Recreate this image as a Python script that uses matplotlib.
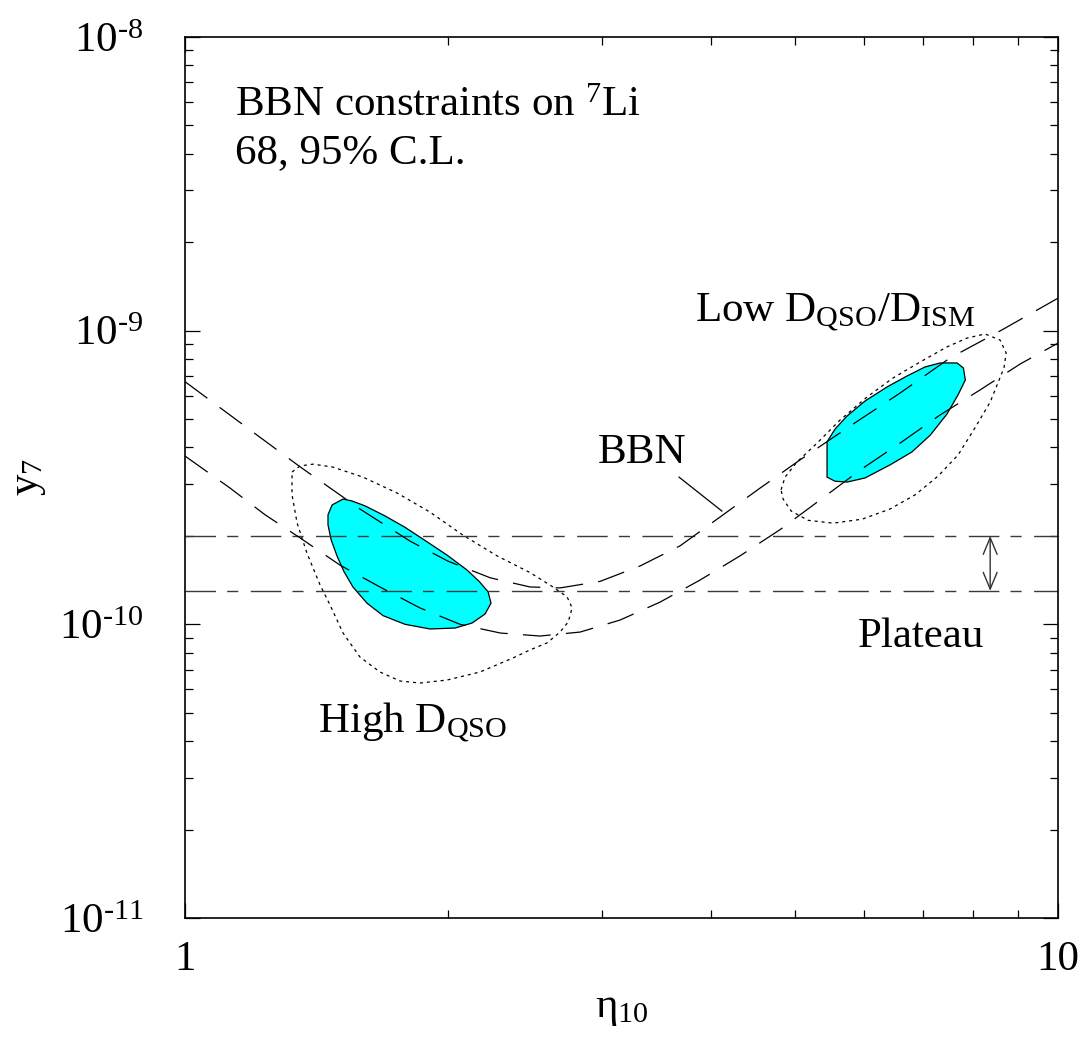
import math
import matplotlib
matplotlib.use('Agg')
import matplotlib.pyplot as plt
from matplotlib.ticker import FixedLocator, FuncFormatter, NullFormatter, LogLocator

# fonts: Times-like serif everywhere
plt.rcParams['font.family'] = ['Liberation Serif', 'DejaVu Serif']
plt.rcParams['mathtext.fontset'] = 'custom'
plt.rcParams['mathtext.rm'] = 'Liberation Serif'
plt.rcParams['mathtext.it'] = 'Liberation Serif:italic'
plt.rcParams['mathtext.bf'] = 'Liberation Serif:bold'
plt.rcParams['lines.scale_dashes'] = False

# BBN band (upper / lower edge)
bbn_hi_x = [1.0, 1.187, 1.354, 1.586, 1.810, 2.001, 2.236, 2.484, 2.689, 2.988, 3.321,
            3.690, 4.101, 4.557, 5.064, 5.777, 6.592, 7.52, 8.58, 10.0]
bbn_hi_y = [6.70e-10, 4.59e-10, 3.44e-10, 2.47e-10, 1.92e-10, 1.64e-10, 1.44e-10, 1.34e-10,
            1.33e-10, 1.40e-10, 1.58e-10, 1.85e-10, 2.32e-10, 2.91e-10, 3.63e-10, 4.73e-10,
            6.13e-10, 8.07e-10, 9.97e-10, 1.29e-9]
bbn_lo_x = [1.0, 1.126, 1.235, 1.354, 1.505, 1.672, 1.858, 2.065, 2.296, 2.55, 2.835,
            3.150, 3.500, 3.890, 4.322, 4.803, 5.338, 5.932, 6.592, 7.325, 8.14, 9.05, 10.0]
bbn_lo_y = [3.74e-10, 2.91e-10, 2.36e-10, 1.97e-10, 1.59e-10, 1.34e-10, 1.137e-10, 1.0e-10,
            9.34e-11, 9.12e-11, 9.41e-11, 1.034e-10, 1.19e-10, 1.415e-10, 1.71e-10, 2.10e-10,
            2.65e-10, 3.35e-10, 4.14e-10, 5.16e-10, 6.28e-10, 7.70e-10, 9.07e-10]

# High D_QSO: 68% (filled) and 95% (dotted)
high68_x = [1.517, 1.474, 1.458, 1.458, 1.470, 1.494, 1.521, 1.557, 1.616, 1.686, 1.786,
            1.908, 2.038, 2.132, 2.206, 2.241, 2.224, 2.172, 2.104, 1.996, 1.893, 1.786,
            1.694, 1.608, 1.553]
high68_y = [2.67e-10, 2.55e-10, 2.36e-10, 2.18e-10, 1.94e-10, 1.70e-10, 1.51e-10, 1.34e-10,
            1.18e-10, 1.07e-10, 1.00e-10, 9.64e-11, 9.71e-11, 1.01e-10, 1.084e-10, 1.18e-10,
            1.29e-10, 1.40e-10, 1.53e-10, 1.72e-10, 1.91e-10, 2.14e-10, 2.34e-10, 2.53e-10,
            2.63e-10]
high95_x = [1.326, 1.354, 1.402, 1.477, 1.599, 1.749, 1.908, 2.082, 2.277, 2.484, 2.639,
            2.739, 2.776, 2.747, 2.689, 2.598, 2.484, 2.375, 2.177, 1.996, 1.858, 1.763,
            1.672, 1.586, 1.517, 1.466, 1.428, 1.379, 1.344, 1.326, 1.326]
high95_y = [3.30e-10, 3.46e-10, 3.51e-10, 3.43e-10, 3.17e-10, 2.80e-10, 2.41e-10, 2.01e-10,
            1.71e-10, 1.50e-10, 1.34e-10, 1.24e-10, 1.137e-10, 1.018e-10, 9.41e-11, 8.64e-11,
            8.18e-11, 7.68e-11, 6.88e-11, 6.46e-11, 6.31e-11, 6.41e-11, 6.88e-11, 7.74e-11,
            9.34e-11, 1.163e-10, 1.36e-10, 1.75e-10, 2.21e-10, 2.76e-10, 3.30e-10]

# Low D_QSO/D_ISM: 68% (filled) and 95% (dotted)
low68_x = [5.437, 5.437, 5.437, 5.553, 5.732, 6.011, 6.42, 6.80, 7.14, 7.46, 7.68, 7.83,
           7.79, 7.66, 7.325, 7.04, 6.71, 6.37, 6.011, 5.732, 5.553]
low68_y = [4.18e-10, 3.63e-10, 3.17e-10, 3.07e-10, 3.05e-10, 3.15e-10, 3.49e-10, 3.86e-10,
           4.41e-10, 5.20e-10, 6.04e-10, 6.79e-10, 7.46e-10, 7.76e-10, 7.76e-10, 7.52e-10,
           7.00e-10, 6.43e-10, 5.76e-10, 5.12e-10, 4.62e-10]
low95_x = [4.816, 4.867, 5.023, 5.296, 5.627, 6.041, 6.471, 6.95, 7.46, 7.87, 8.25, 8.58,
           8.72, 8.67, 8.54, 8.36, 8.03, 7.68, 7.29, 6.86, 6.42, 5.965, 5.525, 5.171, 4.946,
           4.842, 4.816]
low95_y = [2.87e-10, 3.17e-10, 3.57e-10, 4.14e-10, 4.96e-10, 5.94e-10, 6.90e-10, 7.82e-10,
           8.80e-10, 9.44e-10, 9.74e-10, 9.29e-10, 8.39e-10, 7.46e-10, 6.68e-10, 5.71e-10,
           4.66e-10, 3.77e-10, 3.20e-10, 2.76e-10, 2.47e-10, 2.28e-10, 2.21e-10, 2.26e-10,
           2.43e-10, 2.67e-10, 2.87e-10]

# plateau band and its arrow
plateau_y = [1.3e-10, 2.0e-10]
arrow_x = 8.36

# pointer from the "BBN" label to the band
bbn_ptr_x = [3.68, 4.12]
bbn_ptr_y = [3.17e-10, 2.43e-10]

x_ticks = [1, 10]
y_ticks = [1e-11, 1e-10, 1e-9, 1e-8]

fig = plt.figure(figsize=(10.84, 10.49), dpi=100)
ax = fig.add_axes([0.1707, 0.1249, 0.8054, 0.8399])
ax.set_xscale('log')
ax.set_yscale('log')
ax.set_xlim(1, 10)
ax.set_ylim(1e-11, 1e-8)

# 68% regions
ax.fill(high68_x, high68_y, facecolor='#00ffff', edgecolor='black', linewidth=0.9, zorder=1)
ax.fill(low68_x, low68_y, facecolor='#00ffff', edgecolor='black', linewidth=0.9, zorder=1)

# 95% regions
ax.plot(high95_x, high95_y, color='black', linewidth=0.9, linestyle=(0, (2.2, 2.8)), zorder=2)
ax.plot(low95_x, low95_y, color='black', linewidth=0.9, linestyle=(0, (2.2, 2.8)), zorder=2)

# BBN prediction band
ax.plot(bbn_hi_x, bbn_hi_y, color='black', linewidth=0.9, linestyle=(0, (20, 11)), zorder=3)
ax.plot(bbn_lo_x, bbn_lo_y, color='black', linewidth=0.9, linestyle=(0, (20, 11)), zorder=3)
ax.plot(bbn_ptr_x, bbn_ptr_y, color='black', linewidth=0.9, zorder=3)

# plateau lines
for py in plateau_y:
    ax.axhline(py, color='#3a3a3a', linewidth=1.0, linestyle=(0, (22, 8, 8, 9)), zorder=2)
ax.annotate('', xy=(arrow_x, plateau_y[0]), xytext=(arrow_x, plateau_y[1]),
            arrowprops=dict(arrowstyle='<->,head_length=0.6,head_width=0.25',
                            color='#333333', lw=1.0, shrinkA=0, shrinkB=0,
                            mutation_scale=20))

# labels in the plot
fs = 31
ax.text(0.0573, 0.910, r'BBN constraints on ${}^{7}\mathrm{Li}$', transform=ax.transAxes,
        fontsize=fs, va='baseline', ha='left')
ax.text(0.0573, 0.857, '68, 95% C.L.', transform=ax.transAxes,
        fontsize=fs, va='baseline', ha='left')
ax.text(0.473, 0.5165, 'BBN', transform=ax.transAxes, fontsize=fs, va='baseline', ha='left')
ax.text(0.152, 0.211, r'High $\mathrm{D}_{\mathrm{QSO}}$', transform=ax.transAxes,
        fontsize=fs, va='baseline', ha='left')
ax.text(0.584, 0.678, r'Low $\mathrm{D}_{\mathrm{QSO}}/\mathrm{D}_{\mathrm{ISM}}$',
        transform=ax.transAxes, fontsize=fs, va='baseline', ha='left')
ax.text(0.771, 0.3076, 'Plateau', transform=ax.transAxes, fontsize=fs, va='baseline', ha='left')

# axes, ticks
ax.xaxis.set_major_locator(FixedLocator(x_ticks))
ax.xaxis.set_major_formatter(FuncFormatter(lambda v, p: '%d' % round(v)))
ax.xaxis.set_minor_locator(LogLocator(base=10, subs=range(2, 10)))
ax.xaxis.set_minor_formatter(NullFormatter())
ax.yaxis.set_major_locator(FixedLocator(y_ticks))
ax.yaxis.set_major_formatter(
    FuncFormatter(lambda v, p: r'$10^{\text{-}%d}$' % abs(round(math.log10(v)))))
ax.yaxis.set_minor_locator(LogLocator(base=10, subs=range(2, 10)))
ax.yaxis.set_minor_formatter(NullFormatter())

ax.tick_params(which='both', direction='in', top=True, right=True, width=0.9, color='black')
ax.tick_params(which='major', length=11)
ax.tick_params(which='minor', length=5.5)
ax.tick_params(axis='x', which='major', labelsize=31, pad=16)
ax.tick_params(axis='y', which='major', labelsize=31, pad=30)
for s in ax.spines.values():
    s.set_linewidth(1.2)

ax.set_xlabel(r'$\mathrm{η}_{10}$', fontsize=31, labelpad=8)
ax.set_ylabel(r'$\mathrm{y}_{7}$', fontsize=31, labelpad=8)

fig.savefig('out.png', dpi=100)
